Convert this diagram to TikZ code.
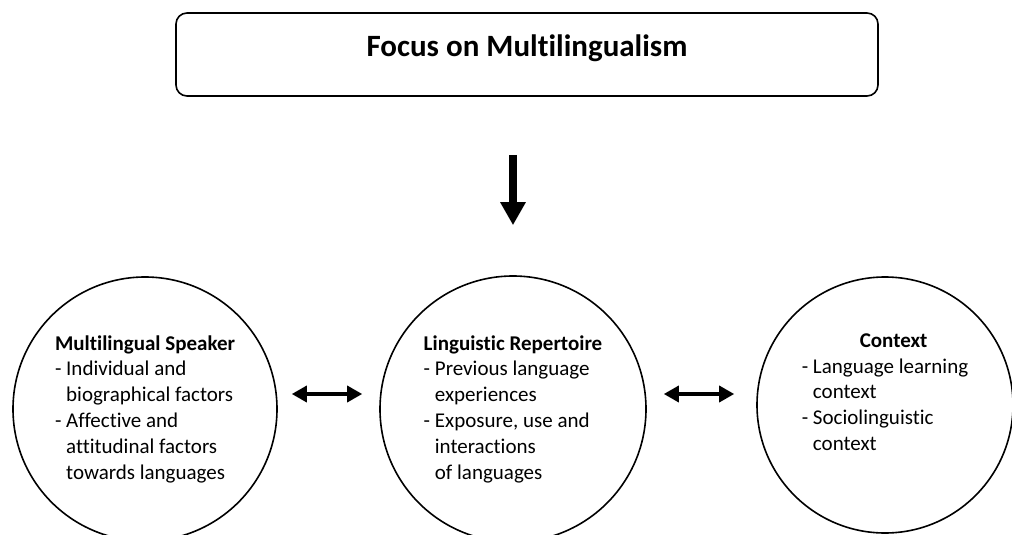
\documentclass[tikz,border=0pt]{standalone}
\usepackage{fontspec}
\setmainfont{Carlito}[Ligatures=NoCommon]
\usetikzlibrary{arrows.meta, positioning}

\newcommand{\bul}{- }
\newcommand{\ind}{\phantom{- }}

\begin{document}
\begin{tikzpicture}[
    x=1pt, y=1pt,
    headbox/.style={draw, line width=1.6pt, rounded corners=11pt, minimum width=702pt, minimum height=83pt,
        font=\fontsize{31}{37}\selectfont\bfseries, text height=20pt, text depth=16pt},
    bubble/.style={draw, circle, line width=1.6pt, align=left, inner sep=0pt,
        font=\fontsize{21}{25.8}\selectfont},
    downarrow/.style={-{Triangle[length=23pt, width=24pt]}, line width=7.3pt},
    dblarrow/.style={{Triangle[length=15pt, width=16pt]}-{Triangle[length=15pt, width=16pt]}, line width=3.4pt}
]
    \useasboundingbox (0,0) rectangle (1012,-535);

    % Top box
    \node[headbox] (focus) at (527,-54.5) {Focus on Multilingualism};

    % Circles
    \node[bubble, minimum size=264pt] (speaker) at (145,-409) {\textbf{Multilingual Speaker}\\
        \bul Individual and\\ \ind biographical factors\\
        \bul Affective and\\ \ind attitudinal factors\\ \ind towards languages};

    \node[bubble, minimum size=266pt] (repertoire) at (513,-409) {\textbf{Linguistic Repertoire}\\
        \bul Previous language\\ \ind experiences\\
        \bul Exposure, use and\\ \ind interactions\\ \ind of languages};

    \node[bubble, minimum size=256pt] (context) at (885,-405) {\hspace*{58pt}\textbf{Context}\\
        \bul Language learning\\ \ind context\\
        \bul Sociolinguistic\\ \ind context\\ \mbox{}};

    % Arrows
    \draw[downarrow, shorten <=58pt, shorten >=50pt] (repertoire.north |- focus.south) -- (repertoire.north);
    \draw[dblarrow] ([xshift=14pt,yshift=15pt]speaker.east) -- ([xshift=-17pt,yshift=15pt]repertoire.west);
    \draw[dblarrow] ([xshift=17pt,yshift=15pt]repertoire.east) -- ([xshift=-22pt,yshift=11pt]context.west);

\end{tikzpicture}
\end{document}
